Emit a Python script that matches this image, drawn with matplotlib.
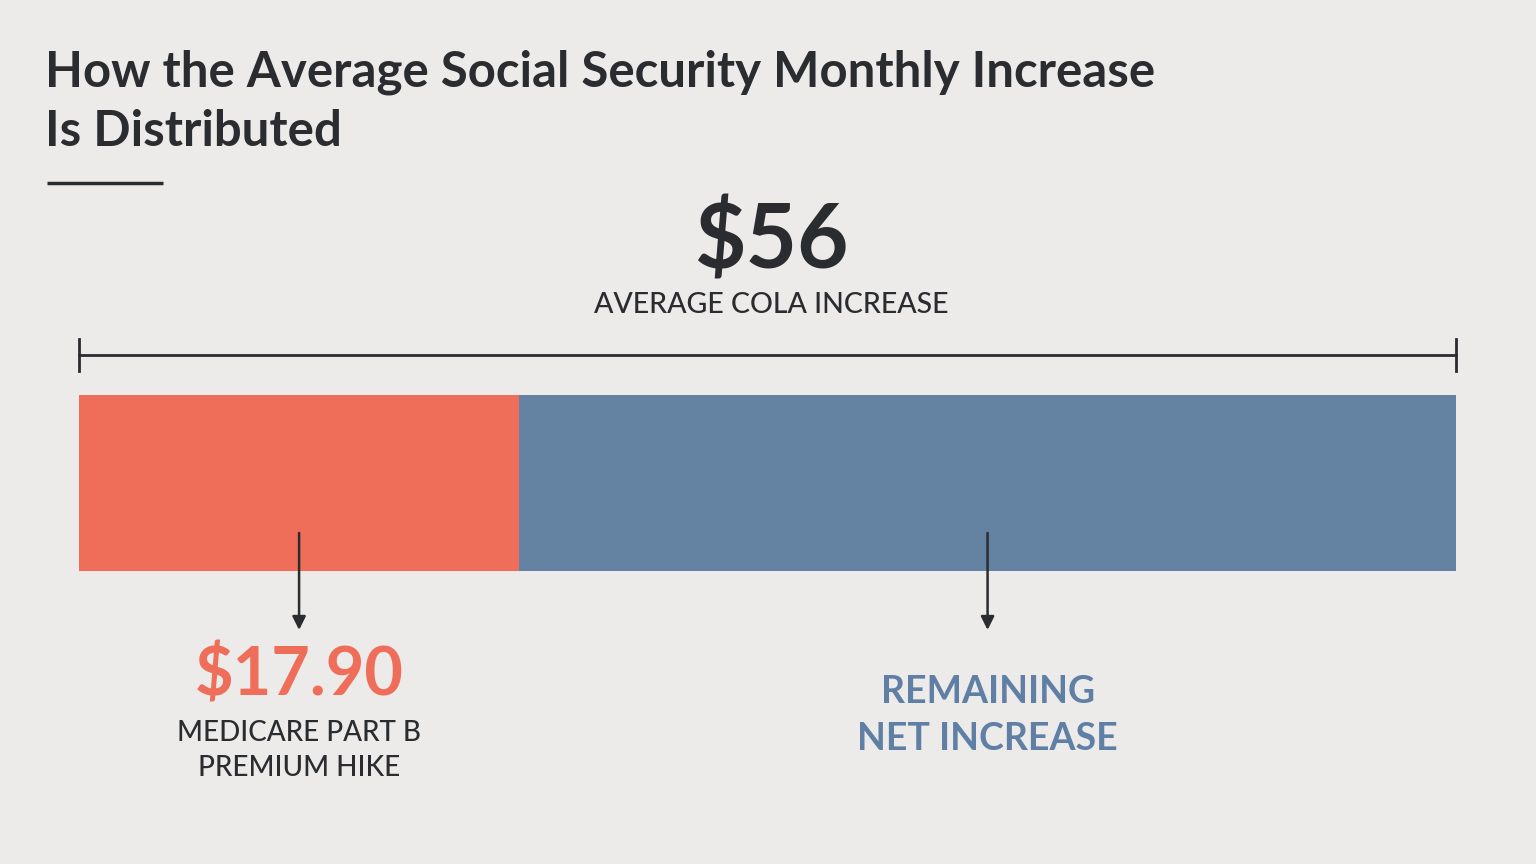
import matplotlib
matplotlib.use('Agg')
import matplotlib.pyplot as plt

# data
total_increase = 56.0
segment_names = ['MEDICARE PART B\nPREMIUM HIKE', 'REMAINING\nNET INCREASE']
segment_values = [17.90, 56.0 - 17.90]
segment_labels = ['$17.90', '']
segment_colors = ['#EE6E5A', '#6482A2']
label_colors = ['#2A2C30', '#5F7FA5']

BG = '#ECEBE9'
DARK = '#2A2C30'
W, H = 1536, 864

plt.rcParams['font.family'] = ['Lato', 'DejaVu Sans']

fig = plt.figure(figsize=(W / 100, H / 100), dpi=100, facecolor=BG)

# overlay axes in pixel units for title / headline
ov = fig.add_axes([0, 0, 1, 1])
ov.set_xlim(0, W)
ov.set_ylim(H, 0)
ov.axis('off')

ov.text(45, 72, 'How the Average Social Security Monthly Increase', fontsize=35.4,
        fontweight='bold', color=DARK, va='center', ha='left')
ov.text(45, 132, 'Is Distributed', fontsize=35.4, fontweight='bold', color=DARK,
        va='center', ha='left')
ov.plot([47, 163], [183, 183], color=DARK, lw=2.5, solid_capstyle='butt')

ov.text(771, 241, '$%d' % total_increase, fontsize=64, fontweight='bold',
        color=DARK, ha='center', va='center')
ov.text(771, 305, 'AVERAGE COLA INCREASE', fontsize=20.5, fontweight='medium',
        color=DARK, ha='center', va='center')

# bar axes: x in dollars
x0, x1, ytop, ybot = 79, 1456, 395, 571
ax = fig.add_axes([x0 / W, 1 - ybot / H, (x1 - x0) / W, (ybot - ytop) / H])
ax.set_xlim(0, total_increase)
ax.set_ylim(0, 1)
ax.axis('off')

# bracket over the whole bar
by = (ybot - 355) / (ybot - ytop)
th = 16 / (ybot - ytop)
ax.plot([0, total_increase], [by, by], color=DARK, lw=2, clip_on=False)
for xe in [0, total_increase]:
    ax.plot([xe, xe], [by - th, by + th], color=DARK, lw=2, clip_on=False)

left = 0
for name, val, lab, col, tcol in zip(segment_names, segment_values,
                                     segment_labels, segment_colors, label_colors):
    ax.barh(0.5, val, left=left, height=1, color=col, edgecolor='none')
    cx = left + val / 2
    # arrow
    ax.annotate('', xy=(cx, -0.335), xytext=(cx, 0.216),
                arrowprops=dict(arrowstyle='-|>', color=DARK, lw=1.8,
                                mutation_scale=20, shrinkA=0, shrinkB=0),
                annotation_clip=False)
    if lab:
        ax.text(cx, -0.60, lab, fontsize=48, fontweight='bold', color=col,
                ha='center', va='center', clip_on=False)
        ax.text(cx, -1.02, name, fontsize=20, fontweight='medium', color=tcol,
                ha='center', va='center', linespacing=1.45, clip_on=False)
    else:
        ax.text(cx, -0.82, name, fontsize=27, fontweight='bold', color=tcol,
                ha='center', va='center', linespacing=1.45, clip_on=False)
    left += val

fig.savefig('out.png', dpi=100, facecolor=BG)
